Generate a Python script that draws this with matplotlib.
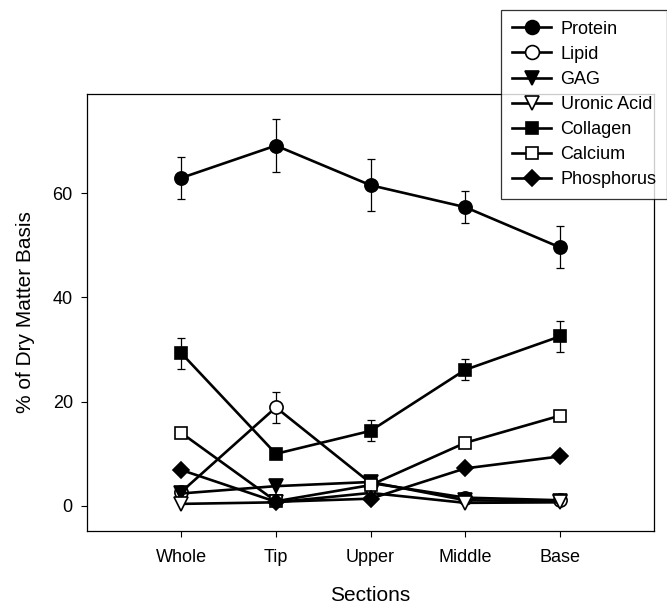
import matplotlib
matplotlib.use("Agg")
import matplotlib.pyplot as plt
import numpy as np

plt.rcParams['font.family'] = ['Liberation Sans', 'DejaVu Sans']

sections = ["Whole", "Tip", "Upper", "Middle", "Base"]

protein = [62.9, 69.1, 61.5, 57.3, 49.6]
protein_err = [4.0, 5.0, 5.0, 3.0, 4.0]
lipid = [2.7, 18.9, 4.4, 1.6, 1.1]
lipid_err = [0, 2.9, 0, 0, 0]
gag = [2.4, 3.8, 4.6, 1.1, 0.9]
uronic = [0.4, 0.7, 2.5, 0.6, 0.7]
collagen = [29.3, 10.0, 14.4, 26.1, 32.5]
collagen_err = [3.0, 0, 2.0, 2.0, 3.0]
calcium = [14.0, 0.9, 4.0, 12.1, 17.3]
phosphorus = [6.9, 0.8, 1.4, 7.2, 9.5]

series = [
    ("Protein", protein, protein_err, "o", "black"),
    ("Lipid", lipid, lipid_err, "o", "white"),
    ("GAG", gag, None, "v", "black"),
    ("Uronic Acid", uronic, None, "v", "white"),
    ("Collagen", collagen, collagen_err, "s", "black"),
    ("Calcium", calcium, None, "s", "white"),
    ("Phosphorus", phosphorus, None, "D", "black"),
]
msizes = {"o": 9.5, "v": 9.5, "s": 8.5, "D": 8}

fig = plt.figure(figsize=(6.67, 6.10), dpi=100)
ax = fig.add_axes([0.130, 0.1295, 0.851, 0.7165])

x = np.arange(1, len(sections) + 1)
handles = []
for name, vals, err, mk, fc in series:
    if err is not None:
        ax.errorbar(x, vals, yerr=err, fmt='none', ecolor='black', elinewidth=0.9,
                    capsize=3.2, capthick=0.9, zorder=2)
    h, = ax.plot(x, vals, color='black', lw=1.9, marker=mk, markersize=msizes[mk],
                 markerfacecolor=fc, markeredgecolor='black', markeredgewidth=1.2,
                 label=name, zorder=3)
    handles.append(h)

ax.set_xlim(0, 6)
ax.set_ylim(-4.8, 79)
ax.set_xticks(x)
ax.set_xticklabels(sections, fontsize=13)
ax.set_yticks([0, 20, 40, 60])
ax.tick_params(axis='y', labelsize=13, direction='out', length=4, width=0.8, pad=6)
ax.tick_params(axis='x', direction='out', length=4, width=0.8, pad=9)
for sp in ax.spines.values():
    sp.set_linewidth(0.9)

ax.set_xlabel("Sections", fontsize=15, labelpad=14)
ax.set_ylabel("% of Dry Matter Basis", fontsize=15, labelpad=13)

leg = fig.legend(handles=handles, loc='upper left', bbox_to_anchor=(0.751, 0.984),
                 fontsize=13, frameon=True, fancybox=False, edgecolor='black',
                 handlelength=2.2, handletextpad=0.5, labelspacing=0.45,
                 borderpad=0.6, borderaxespad=0, markerscale=1.05)
leg.get_frame().set_linewidth(0.9)

fig.savefig("out.png", dpi=100)
